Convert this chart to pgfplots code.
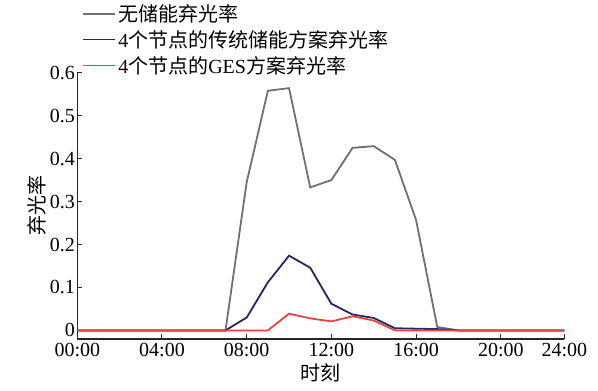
\documentclass[border=0pt]{standalone}
\usepackage{pgfplots}
\pgfplotsset{compat=1.18}
\usepackage{fontspec}
\setmainfont{Liberation Serif}
\newfontfamily\cjk{Noto Sans CJK SC}
\newfontfamily\tms{Liberation Serif}
\newcommand\tl[1]{\mbox{\tms\fontsize{20}{24}\selectfont #1}}
\definecolor{cgray}{RGB}{112,112,112}
\definecolor{cnavy}{RGB}{40,38,98}
\definecolor{cred}{RGB}{234,66,68}
\begin{document}
\begin{tikzpicture}
\begin{axis}[
  width=487pt, height=266.3pt, scale only axis,
  xmin=0, xmax=23, ymin=-0.02, ymax=0.6,
  axis x line*=bottom, axis y line*=left,
  axis line style={line width=1.2pt, color=black!85},
  xtick={0,4,8,12,16,20,23},
  xticklabels={\tl{00:00},\tl{04:00},\tl{08:00},\tl{12:00},\tl{16:00},\tl{20:00},\tl{24:00}},
  ytick={0,0.1,0.2,0.3,0.4,0.5,0.6},
  yticklabels={\tl{0},\tl{0.1},\tl{0.2},\tl{0.3},\tl{0.4},\tl{0.5},\tl{0.6}},
  tick align=inside, major tick length=5pt,
  tick style={line width=1pt, color=black!85},
  tick label style={font=\tms\fontsize{20}{24}\selectfont},
  xticklabel style={yshift=-1pt},
  yticklabel style={xshift=1pt},
  xlabel={\cjk 时刻}, ylabel={\cjk 弃光率},
  label style={font=\fontsize{20}{24}\selectfont},
  ylabel style={yshift=-3pt},
  legend cell align=left,
  legend style={draw=none, fill=none, at={(rel axis cs:0,1)}, anchor=north west,
    yshift=72.5pt, xshift=2pt, font=\tms\fontsize{20}{22}\selectfont, row sep=3.5pt},
  legend image code/.code={\draw[#1, line width=1.8pt] (0pt,0pt) -- (32pt,0pt);},
]
\addplot[cgray, line width=1.8pt] coordinates {
(0,0)(1,0)(2,0)(3,0)(4,0)(5,0)(6,0)(7,0)(8,0.345)(9,0.558)(10,0.564)(11,0.333)
(12,0.350)(13,0.425)(14,0.429)(15,0.397)(16,0.257)(17,0.008)(18,0)(19,0)(20,0)(21,0)(22,0)(23,0)};
\addlegendentry{{\cjk 无储能弃光率}}
\addplot[cnavy, line width=1.8pt] coordinates {
(0,0)(1,0)(2,0)(3,0)(4,0)(5,0)(6,0)(7,0)(8,0.030)(9,0.112)(10,0.174)(11,0.146)
(12,0.062)(13,0.037)(14,0.029)(15,0.005)(16,0.004)(17,0.003)(18,0)(19,0)(20,0)(21,0)(22,0)(23,0)};
\addlegendentry{4{\cjk 个节点的传统储能方案弃光率}}
\addplot[cred, line width=1.8pt] coordinates {
(0,0)(1,0)(2,0)(3,0)(4,0)(5,0)(6,0)(7,0)(8,0)(9,0)(10,0.039)(11,0.028)
(12,0.021)(13,0.033)(14,0.023)(15,0)(16,0)(17,0)(18,0)(19,0)(20,0)(21,0)(22,0)(23,0)};
\addlegendentry{4{\cjk 个节点的}GES{\cjk 方案弃光率}}
\end{axis}
\pgfresetboundingbox
\path ([shift={(-77.3pt,-52pt)}]current axis.south west) rectangle ([shift={(33.7pt,72.7pt)}]current axis.north east);
\end{tikzpicture}
\end{document}
